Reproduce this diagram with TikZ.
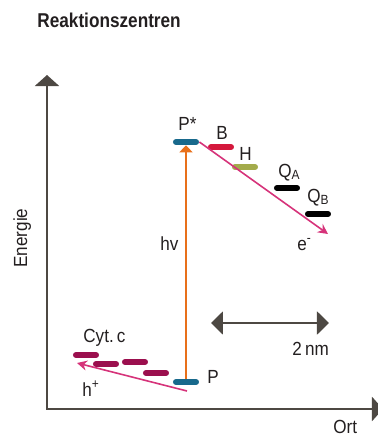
\documentclass[tikz,border=0pt]{standalone}
\usepackage{fontspec}
\setmainfont{Liberation Sans}[FakeStretch=0.9]
\newfontfamily\titlefont{Liberation Sans}[FakeStretch=0.86]
\usepackage{xcolor}
\usetikzlibrary{positioning, arrows.meta}

\definecolor{axgray}{RGB}{77,72,67}
\definecolor{txtgray}{RGB}{35,31,32}
\definecolor{lvteal}{RGB}{24,105,140}
\definecolor{lvred}{RGB}{212,24,60}
\definecolor{lvolive}{RGB}{163,171,75}
\definecolor{lvcyt}{RGB}{155,15,78}
\definecolor{elpink}{RGB}{214,51,122}
\definecolor{phorange}{RGB}{232,112,26}

\begin{document}
\begin{tikzpicture}[x=0.5pt, y=-0.5pt,
  level/.style={rectangle, rounded corners=1.4pt, inner sep=0pt, minimum width=13pt, minimum height=2.9pt},
  lbl/.style={font=\fontsize{9.5}{11}\selectfont, text=txtgray, inner sep=0pt, anchor=base west},
  axis/.style={line width=1.1pt, draw=axgray},
  transfer/.style={-{Stealth[length=5pt, width=5pt]}, line width=0.8pt, draw=elpink},
  photon/.style={-{Triangle[length=3.5pt, width=6.5pt]}, line width=1pt, draw=phorange},
  scalebar/.style={{Triangle[length=6pt, width=11.5pt]}-{Triangle[length=6pt, width=11.5pt]}, line width=1pt, draw=axgray}
]
\useasboundingbox (0,0) rectangle (377,436);

% Title
\node[lbl, font=\titlefont\fontsize{10}{12}\selectfont\bfseries] (title) at (37,27) {Reaktionszentren};

% Axes
\coordinate (orig) at (47,409);
\coordinate (ytop) at (47,75);
\coordinate (xend) at (383,409);
\draw[axis, {Triangle[length=5.5pt, width=12pt]}-{Triangle[length=5.5pt, width=12pt]}] (ytop) -- (orig) -- (xend);
\node[lbl, rotate=90, anchor=base] (energie) at (27,238) {Energie};
\node[lbl] (ort) at (333,433) {Ort};

% Energy levels
\node[level, fill=lvteal] (pstar) at (186,142) {};
\node[level, fill=lvred] (b) at (221,147) {};
\node[level, fill=lvolive] (h) at (245,167) {};
\node[level, fill=black] (qa) at (287,188) {};
\node[level, fill=black] (qb) at (318,214) {};
\node[level, fill=lvteal] (p) at (186,382) {};
\node[level, fill=lvcyt] (cyt1) at (86,355) {};
\node[level, fill=lvcyt] (cyt2) at (106,364) {};
\node[level, fill=lvcyt] (cyt3) at (135,362) {};
\node[level, fill=lvcyt] (cyt4) at (156,373) {};

% Labels
\node[lbl] (lpstar) at (178,130) {P*};
\node[lbl] (lb) at (216,139) {B};
\node[lbl] (lh) at (239,160) {H};
\node[lbl] (lqa) at (278,177) {Q\textsubscript{A}};
\node[lbl] (lqb) at (307,202) {Q\textsubscript{B}};
\node[lbl] (lp) at (207,383) {P};
\node[lbl] (lcyt) at (83,342) {Cyt.\,c};
\node[lbl] (lhv) at (160,250) {hv};
\node[lbl] (le) at (297,250) {e\textsuperscript{-}};
\node[lbl] (lhplus) at (82,396) {h\textsuperscript{+}};
\node[lbl] (lnm) at (292,355) {2\,nm};

% Transfers
\coordinate (eend) at (328,234);
\coordinate (hstart) at (187,391);
\coordinate (hend) at (77,363);
\draw[photon] (p.north) -- (pstar.south);
\draw[transfer] (pstar.east) -- (eend);
\draw[transfer] (hstart) -- (hend);

% Scale
\coordinate (dl) at (211,323);
\coordinate (dr) at (329,323);
\draw[scalebar] (dl) -- (dr);

\end{tikzpicture}
\end{document}
